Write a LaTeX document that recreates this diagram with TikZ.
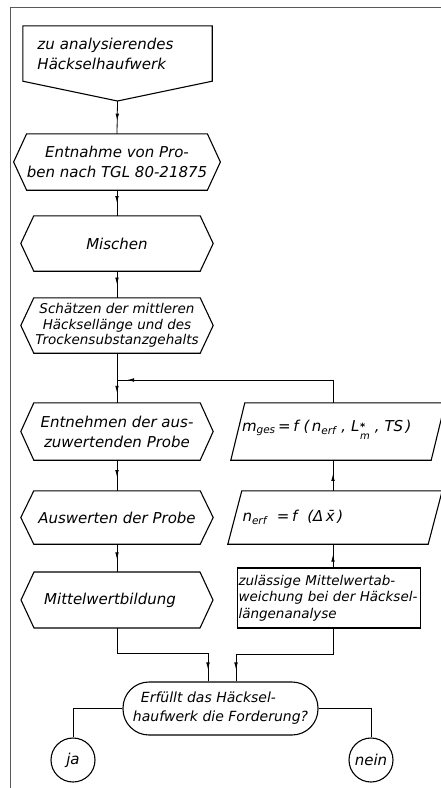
\documentclass[tikz,border=0pt]{standalone}
\usepackage{fontspec}
\setmainfont{DejaVu Sans}
\usetikzlibrary{decorations.markings,arrows.meta}
\newcommand\drawhex[1]{\draw[shapeline] (#1.north west) -- (#1.north east) -- ([xshift=13pt]#1.east) -- (#1.south east) -- (#1.south west) -- ([xshift=-13pt]#1.west) -- cycle;}
\newcommand\drawpar[1]{\draw[shapeline] ([xshift=7pt]#1.north west) -- ([xshift=7pt]#1.north east) -- ([xshift=-7pt]#1.south east) -- ([xshift=-7pt]#1.south west) -- cycle;}
\newcommand\Lstar{L\kern0.5pt\raisebox{-4pt}{\fontsize{10}{10}\selectfont\begin{tabular}{@{}l@{}}\textbf{*}\\[-1pt]m\end{tabular}}}
\tikzset{
  shapeline/.style={line width=1.1pt, line join=miter},
  flow/.style={line width=0.8pt},
  midarrow/.style={postaction={decorate},decoration={markings,mark=at position #1 with {\arrow{Latex[length=7pt,width=3.6pt]}}}},
  hexn/.style={minimum width=166pt, inner sep=0pt, align=center},
  parn/.style={minimum width=200pt, inner sep=0pt, align=left},
  txt/.style={font=\fontsize{15}{20}\selectfont\itshape},
}
\begin{document}
\begin{tikzpicture}[x=1pt,y=-1pt,txt]
\useasboundingbox (0,0) rectangle (441,788);
% frame
\draw[black!65, line width=1pt] (10,788) -- (10,7) -- (441,7);
% nodes
\node[inner sep=0pt, minimum width=189pt, minimum height=55pt, text width=160pt, align=left] (start) at (117.5,53.5) {zu analysierendes\\Häckselhaufwerk};
\draw[shapeline] (start.south west) -- (start.north west) -- (start.north east) -- (start.south east) -- (117.5,101) -- cycle;
\coordinate (tip) at (117.5,101);
\node[hexn, minimum height=56pt] (samp) at (117,162) {Entnahme von Pro-\\ben nach TGL 80-21875};
\node[hexn, minimum height=55pt] (mix) at (117,243.5) {Mischen};
\node[hexn, minimum height=55pt, font=\fontsize{13.5}{15.5}\selectfont\itshape] (est) at (117,325.5) {Schätzen der mittleren\\Häcksellänge und des\\Trockensubstanzgehalts};
\node[hexn, minimum height=57pt] (take) at (117,431.5) {Entnehmen der aus-\\zuwertenden Probe};
\node[hexn, minimum height=53pt] (eval) at (117,517.5) {Auswerten der Probe};
\node[hexn, minimum height=56pt] (mean) at (110,600) {Mittelwertbildung};
\foreach \n in {samp,mix,est,take,eval} {\drawhex{\n}}
\draw[shapeline] (34,572) -- (200,572) -- (213,600) -- (200,628) -- (34,628) -- (21,600) -- cycle;
\node[parn, minimum height=57pt, text width=192pt] (mges) at (338,431.5) {m\textsubscript{ges}\,=\,f\,\,(\,n\textsubscript{erf}\,\,,\,\,\Lstar\,\,,\,\,TS\,)};
\node[parn, minimum height=53pt, text width=185pt] (nerf) at (335,517.5) {n\textsubscript{erf}\,\, =\,f \,\,(Δ\,\={x}\,)};
\drawpar{mges}
\drawpar{nerf}
\node[draw, shapeline, minimum width=183pt, minimum height=60pt, inner sep=0pt, text width=181pt, align=left, font=\fontsize{13.5}{16.5}\selectfont\itshape] (zul) at (329,598) {zulässige Mittelwertab-\\weichung bei der Häcksel-\\längenanalyse};
\node[draw, shapeline, rounded corners=26pt, minimum width=195pt, minimum height=53pt, inner sep=0pt, align=left, font=\fontsize{14}{19}\selectfont\itshape] (dec) at (220.5,708.5) {\hspace*{8pt}Erfüllt das Häcksel-\\haufwerk die Forderung?};
\node[draw, shapeline, circle, minimum size=44pt, inner sep=0pt] (ja) at (73,760) {ja};
\node[draw, shapeline, circle, minimum size=44pt, inner sep=0pt] (nein) at (371,760) {nein};
% connectors
\coordinate (j) at (117,380);
\coordinate (mb) at (117,628);
\coordinate (dIn1) at ([xshift=-12.5pt]dec.north);
\coordinate (dIn2) at ([xshift=15.5pt]dec.north);
\draw[flow, midarrow=0.6] (tip) -- (samp.north);
\draw[flow, midarrow=0.5] (samp.south) -- (mix.north);
\draw[flow, midarrow=0.5] (mix.south) -- (est.north);
\draw[flow, midarrow=0.8] (est.south) -- (take.north);
\draw[flow, midarrow=-10pt] (mges.north -| 333,0) |- (j);
\draw[flow, midarrow=0.55] (take.south) -- (eval.north);
\draw[flow, midarrow=0.55] (eval.south) -- (eval.south |- mean.north);
\draw[flow, midarrow=0.55] (zul.north -| 333,0) -- (nerf.south -| 333,0);
\draw[flow, midarrow=0.55] (nerf.north -| 333,0) -- (mges.south -| 333,0);
\draw[flow, midarrow=-12pt] (mb) -- ++(0,25) -| (dIn1);
\draw[flow, midarrow=-12pt] (zul.south -| 333,0) -- ++(0,26) -| (dIn2);
\draw[flow] (dec.west) -| (ja.north);
\draw[flow] (dec.east) -| (nein.north);
\end{tikzpicture}
\end{document}
